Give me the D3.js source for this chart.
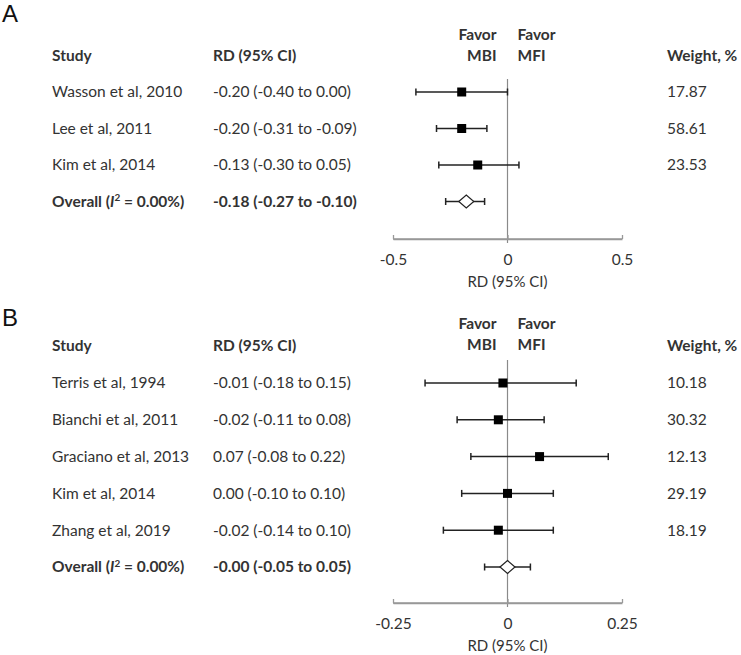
<!DOCTYPE html>
<html><head><meta charset="utf-8">
<script src="https://cdn.jsdelivr.net/npm/d3@7"></script>
<style>
body{margin:0;background:#fff;}
svg{display:block;font-family:Lato,"Open Sans",sans-serif;}
</style></head>
<body><svg id="c" width="741" height="655"></svg>
<script>
// ---- Data ----
const studiesA = ["Wasson et al, 2010", "Lee et al, 2011", "Kim et al, 2014"];
const rdA     = [-0.20, -0.20, -0.13];
const lowA    = [-0.40, -0.31, -0.30];
const highA   = [0.00, -0.09, 0.05];
const weightA = ["17.87", "58.61", "23.53"];
const overallA = [-0.18, -0.27, -0.10]; // est, low, high
const ticksA = [-0.5, 0, 0.5];
const tickLabelsA = ["-0.5", "0", "0.5"];

const studiesB = ["Terris et al, 1994", "Bianchi et al, 2011", "Graciano et al, 2013", "Kim et al, 2014", "Zhang et al, 2019"];
const rdB     = [-0.01, -0.02, 0.07, 0.00, -0.02];
const lowB    = [-0.18, -0.11, -0.08, -0.10, -0.14];
const highB   = [0.15, 0.08, 0.22, 0.10, 0.10];
const weightB = ["10.18", "30.32", "12.13", "29.19", "18.19"];
const overallB = [-0.00, -0.05, 0.05];
const ticksB = [-0.25, 0, 0.25];
const tickLabelsB = ["-0.25", "0", "0.25"];

const fmt = v => ((v < 0 || Object.is(v, -0)) ? "-" : "") + Math.abs(v).toFixed(2);
function ciText(e,l,h){ return `${fmt(e)} (${fmt(l)} to ${fmt(h)})`; }

const svg = d3.select("#c");
const TXT = "#333";
const FS = 15.5;

function panel(cfg){
  const g = svg.append("g");
  const x = d3.scaleLinear().domain(cfg.domain).range([393, 622]);
  g.append("text").attr("x",2).attr("y",cfg.letterY).attr("font-family","'Liberation Sans',Arial,sans-serif")
    .attr("font-size",24).attr("fill","#111").text(cfg.letter);
  const hdr = (xx,yy,t,anchor) => g.append("text").attr("x",xx).attr("y",yy).attr("dy","0.35em")
    .attr("text-anchor",anchor||"start").attr("font-weight","bold").attr("font-size",FS).attr("fill",TXT).text(t);
  hdr(52,cfg.headerY,"Study");
  hdr(213,cfg.headerY,"RD (95% CI)");
  hdr(667,cfg.headerY,"Weight, %");
  hdr(x(0)-11,cfg.favorY,"Favor","end");
  hdr(x(0)-11,cfg.favorY+21,"MBI","end");
  hdr(x(0)+10,cfg.favorY,"Favor");
  hdr(x(0)+10,cfg.favorY+21,"MFI");

  const n = cfg.studies.length;
  const y = i => cfg.rowStart + i*cfg.rowStep;
  const oy = y(n);

  g.append("line").attr("x1",x(0)).attr("x2",x(0)).attr("y1",cfg.zeroTop).attr("y2",cfg.axisY+4)
    .attr("stroke","#8a8a8a").attr("stroke-width",1.2);
  const axis = d3.axisBottom(x).tickValues(cfg.ticks).tickFormat((d,i)=>cfg.tickLabels[i]).tickSizeInner(-4).tickSizeOuter(0).tickPadding(15);
  const ax = g.append("g").attr("transform",`translate(0,${cfg.axisY})`).call(axis);
  ax.select(".domain").attr("stroke","#999").attr("stroke-width",1.3).attr("fill","none");
  ax.selectAll(".tick line").attr("stroke","#999").attr("stroke-width",1.3);
  ax.selectAll(".tick text").attr("font-size",FS).attr("fill",TXT).attr("font-family","Lato,sans-serif");
  // baseline along the scale's range
  const [r0, r1] = x.range();
  ax.append("line").attr("x1",r0).attr("x2",r1).attr("y1",0).attr("y2",0).attr("stroke","#999").attr("stroke-width",1.3);
  g.append("text").attr("x",x(0)).attr("y",cfg.axisY+43).attr("dy","0.35em").attr("text-anchor","middle").attr("font-size",15).attr("fill",TXT).text("RD (95% CI)");

  cfg.studies.forEach((s,i)=>{
    g.append("text").attr("x",52).attr("y",y(i)).attr("dy","0.35em").attr("font-size",FS).attr("fill",TXT).text(s);
    g.append("text").attr("x",213).attr("y",y(i)).attr("dy","0.35em").attr("font-size",FS).attr("fill",TXT).text(ciText(cfg.rd[i],cfg.low[i],cfg.high[i]));
    g.append("text").attr("x",667).attr("y",y(i)).attr("dy","0.35em").attr("font-size",FS).attr("fill",TXT).text(cfg.weight[i]);
    errBar(g, x(cfg.low[i]), x(cfg.high[i]), y(i));
    g.append("rect").attr("x",x(cfg.rd[i])-4.5).attr("y",y(i)-4.5).attr("width",9).attr("height",9).attr("fill","#000");
  });
  const ot = g.append("text").attr("x",52).attr("y",oy).attr("dy","0.35em").attr("font-size",FS).attr("font-weight","bold").attr("fill",TXT);
  ot.append("tspan").text("Overall (");
  ot.append("tspan").attr("font-style","italic").text("I");
  ot.append("tspan").attr("font-size",10).attr("dy","-0.55em").text("2");
  ot.append("tspan").attr("dy","0.35em").text(" = 0.00%)");
  g.append("text").attr("x",213).attr("y",oy).attr("dy","0.35em").attr("font-size",FS).attr("font-weight","bold").attr("fill",TXT)
    .text(ciText(cfg.overall[0],cfg.overall[1],cfg.overall[2]));
  errBar(g, x(cfg.overall[1]), x(cfg.overall[2]), oy);
  const cx = x(cfg.overall[0]);
  g.append("path").attr("d",`M${cx-7.5},${oy}L${cx},${oy-6.5}L${cx+7.5},${oy}L${cx},${oy+6.5}Z`)
    .attr("fill","#fff").attr("stroke","#222").attr("stroke-width",1.2);
}

function errBar(g,x1,x2,yy){
  g.append("line").attr("x1",x1).attr("x2",x2).attr("y1",yy).attr("y2",yy).attr("stroke","#222").attr("stroke-width",1.5);
  [x1,x2].forEach(xx=>g.append("line").attr("x1",xx).attr("x2",xx).attr("y1",yy-3.5).attr("y2",yy+3.5).attr("stroke","#222").attr("stroke-width",1.5));
}

panel({letter:"A",letterY:22,domain:[-0.5,0.5],ticks:ticksA,tickLabels:tickLabelsA,
  studies:studiesA,rd:rdA,low:lowA,high:highA,weight:weightA,overall:overallA,
  headerY:56,favorY:35,rowStart:92,rowStep:36.5,zeroTop:79,axisY:239});
panel({letter:"B",letterY:326,domain:[-0.25,0.25],ticks:ticksB,tickLabels:tickLabelsB,
  studies:studiesB,rd:rdB,low:lowB,high:highB,weight:weightB,overall:overallB,
  headerY:346,favorY:324,rowStart:383,rowStep:36.8,zeroTop:360,axisY:603});
</script></body></html>
